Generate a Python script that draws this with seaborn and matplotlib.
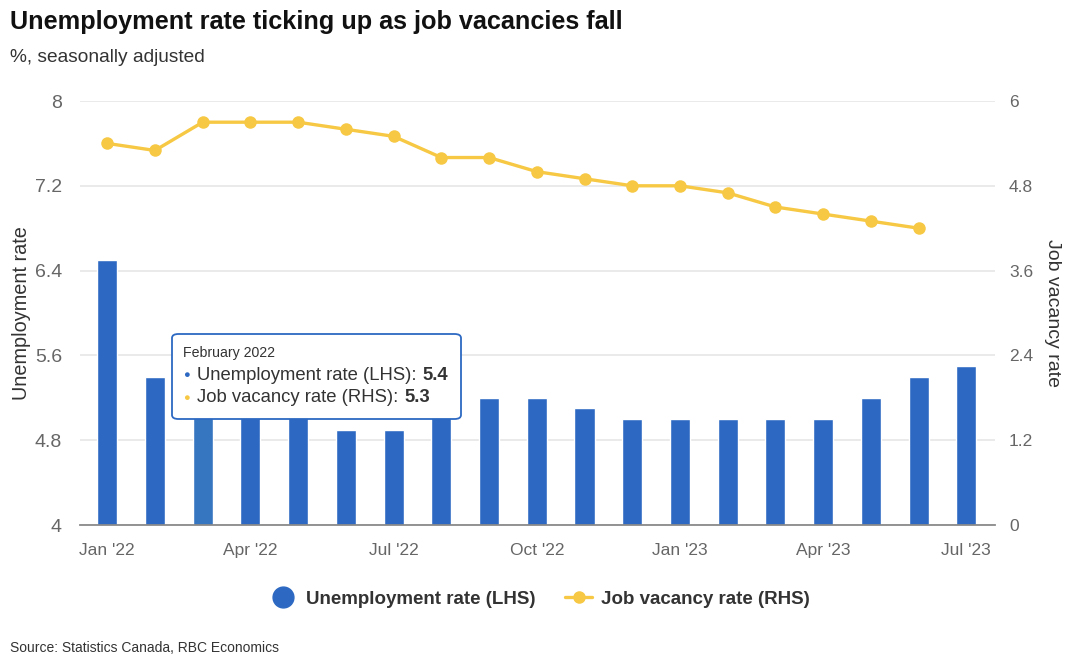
import matplotlib
matplotlib.use("Agg")
import matplotlib.pyplot as plt
import seaborn as sns
import pandas as pd
from matplotlib.lines import Line2D
from matplotlib.patches import FancyBboxPatch

months = ["Jan 2022", "Feb 2022", "Mar 2022", "Apr 2022", "May 2022", "Jun 2022",
          "Jul 2022", "Aug 2022", "Sep 2022", "Oct 2022", "Nov 2022", "Dec 2022",
          "Jan 2023", "Feb 2023", "Mar 2023", "Apr 2023", "May 2023", "Jun 2023",
          "Jul 2023"]
unemployment = [6.5, 5.4, 5.3, 5.2, 5.1, 4.9, 4.9, 5.4, 5.2, 5.2, 5.1, 5.0,
                5.0, 5.0, 5.0, 5.0, 5.2, 5.4, 5.5]
vacancy = [5.4, 5.3, 5.7, 5.7, 5.7, 5.6, 5.5, 5.2, 5.2, 5.0, 4.9, 4.8,
           4.8, 4.7, 4.5, 4.4, 4.3, 4.2]
tick_labels = ["Jan '22", "Apr '22", "Jul '22", "Oct '22", "Jan '23", "Apr '23", "Jul '23"]
left_ticks = [4, 4.8, 5.6, 6.4, 7.2, 8]
left_tick_labels = ["4", "4.8", "5.6", "6.4", "7.2", "8"]
right_ticks = [0, 1.2, 2.4, 3.6, 4.8, 6]
right_tick_labels = ["0", "1.2", "2.4", "3.6", "4.8", "6"]

BLUE = "#2d69c2"
BLUE_HI = "#3675c0"
YELLOW = "#f6c843"
GRID = "#e6e6e6"
AXIS = "#8a8a8a"
TICKTXT = "#666666"
DARK = "#333333"

sns.set_theme(style="white")
plt.rcParams["font.family"] = ["Liberation Sans", "DejaVu Sans"]

df_u = pd.DataFrame({"month": months, "rate": unemployment})
df_v = pd.DataFrame({"pos": list(range(len(vacancy))), "rate": vacancy})

fig = plt.figure(figsize=(10.8, 6.65), dpi=100)
ax = fig.add_axes([80 / 1080, 1 - 525 / 665, (995 - 80) / 1080, (525 - 101) / 665])

sns.barplot(data=df_u, x="month", y="rate", color=BLUE, width=0.42,
            saturation=1, ax=ax, zorder=2)
ax.patches[2].set_facecolor(BLUE_HI)

ax.set_ylim(4, 8)
ax.set_xlim(-0.57, len(months) - 1 + 0.6)
ax.set_yticks(left_ticks)
ax.set_yticklabels(left_tick_labels)
ax.yaxis.grid(True, color=GRID, linewidth=1.2)
ax.set_axisbelow(True)
ax.set_xticks([0, 3, 6, 9, 12, 15, 18])
ax.set_xticklabels(tick_labels)
ax.tick_params(axis="x", direction="out", length=9, width=1.1, color=AXIS,
               labelsize=12.5, labelcolor=TICKTXT, pad=4)
ax.tick_params(axis="y", length=0, labelsize=14, labelcolor=TICKTXT, pad=13)
for s in ["top", "right", "left"]:
    ax.spines[s].set_visible(False)
ax.spines["bottom"].set_color(AXIS)
ax.spines["bottom"].set_linewidth(1.3)
ax.set_xlabel("")
ax.set_ylabel("Unemployment rate", fontsize=14.3, color=DARK, labelpad=3)

ax2 = ax.twinx()
sns.lineplot(data=df_v, x="pos", y="rate", color=YELLOW, linewidth=2.4,
             marker="o", markersize=9, markeredgewidth=0, ax=ax2, zorder=3)
ax2.set_ylim(0, 6)
ax2.set_yticks(right_ticks)
ax2.set_yticklabels(right_tick_labels)
ax2.tick_params(axis="y", length=0, labelsize=12.5, labelcolor=TICKTXT, pad=10)
for s in ["top", "right", "left", "bottom"]:
    ax2.spines[s].set_visible(False)
ax2.grid(False)
ax2.set_xlabel("")
ax2.set_ylabel("Job vacancy rate", fontsize=14, color=DARK, rotation=270,
               labelpad=20)
ax2.set_xlim(ax.get_xlim())

# Title, subtitle, source
fig.text(10 / 1080, 1 - 22 / 665, "Unemployment rate ticking up as job vacancies fall",
         fontsize=18.2, fontweight="bold", color="#111111", va="center", ha="left")
fig.text(10 / 1080, 1 - 57 / 665, "%, seasonally adjusted", fontsize=13.8,
         color=DARK, va="center", ha="left")
fig.text(10 / 1080, 1 - 648 / 665, "Source: Statistics Canada, RBC Economics",
         fontsize=10, color=DARK, va="center", ha="left")

# Legend
handles = [
    Line2D([], [], linestyle="none", marker="o", markersize=15, color=BLUE),
    Line2D([], [], color=YELLOW, linewidth=2.4, marker="o", markersize=8),
]
leg = fig.legend(handles, ["Unemployment rate (LHS)", "Job vacancy rate (RHS)"],
                 loc="center", bbox_to_anchor=(540 / 1080, 1 - 599 / 665),
                 ncol=2, frameon=False, handlelength=1.4, columnspacing=1.6,
                 handletextpad=0.5, prop={"weight": "bold", "size": 13.5})
for t in leg.get_texts():
    t.set_color(DARK)

# Tooltip
x0, y0, x1, y1 = 172, 334, 461, 419
box = FancyBboxPatch((x0 / 1080, 1 - y1 / 665), (x1 - x0) / 1080, (y1 - y0) / 665,
                     boxstyle="round,pad=0,rounding_size=0.006",
                     transform=fig.transFigure, facecolor="white",
                     edgecolor=BLUE, linewidth=1.3, zorder=10)
fig.patches.append(box)
fig.text(183 / 1080, 1 - 353 / 665, "February 2022", fontsize=10.2, color=DARK,
         va="center", ha="left", zorder=11)
renderer = fig.canvas.get_renderer()
rows = [(375, BLUE, "Unemployment rate (LHS): ", "5.4"),
        (398, YELLOW, "Job vacancy rate (RHS): ", "5.3")]
for y, col, lab, val in rows:
    fig.text(183 / 1080, 1 - y / 665, "\u25CF", fontsize=8, color=col,
             va="center", ha="left", zorder=11)
    t = fig.text(197 / 1080, 1 - y / 665, lab, fontsize=13.3, color=DARK,
                 va="center", ha="left", zorder=11)
    bb = t.get_window_extent(renderer=renderer)
    fig.text((bb.x1 + 1) / fig.bbox.width, 1 - y / 665, val, fontsize=13.3,
             fontweight="bold", color=DARK, va="center", ha="left", zorder=11)

fig.savefig("out.png", dpi=100, facecolor="white")
